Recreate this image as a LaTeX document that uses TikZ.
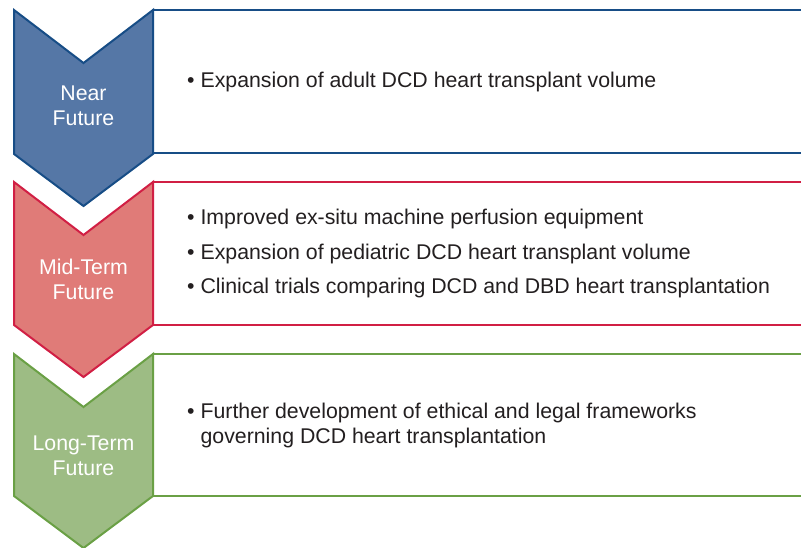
\documentclass[tikz,border=0pt]{standalone}
\usepackage{fontspec}
\setmainfont{Liberation Sans}
\definecolor{nearfill}{HTML}{5577A6}
\definecolor{nearline}{HTML}{174D86}
\definecolor{midfill}{HTML}{E07B78}
\definecolor{midline}{HTML}{D11F44}
\definecolor{longfill}{HTML}{9DBC84}
\definecolor{longline}{HTML}{6AA045}
\definecolor{bodytext}{HTML}{231F20}
\tikzset{
  panel/.style={line width=2pt, fill=white},
  chevronshape/.style={line width=2pt, line join=miter},
  stagelabel/.style={text=white, align=center, inner sep=0pt,
    font=\fontsize{21.3}{25}\selectfont},
  itemlist/.style={text=bodytext, align=left, anchor=west, inner sep=0pt,
    font=\fontsize{21.3}{25}\selectfont},
}
\begin{document}
\begin{tikzpicture}[x=1pt,y=-1pt]
\useasboundingbox (0,0) rectangle (801,548);
\clip (0,0) rectangle (801,548);

% stage 1: near future
\draw[panel, draw=nearline] (153,10) rectangle (810,153);
\draw[chevronshape, draw=nearline, fill=nearfill]
  (14,10) -- (83.5,63) -- (153,10) -- (153,154) -- (83.5,206) -- (14,154) -- cycle;
\node[stagelabel] (near) at (83.5,106) {Near\\Future};
\node[itemlist] (nearitems) at (187,81.5)
  {\textbullet\ Expansion of adult DCD heart transplant volume};

% stage 2: mid-term future
\draw[panel, draw=midline] (153,182) rectangle (810,325);
\draw[chevronshape, draw=midline, fill=midfill]
  (14,182) -- (83.5,235) -- (153,182) -- (153,325) -- (83.5,377) -- (14,325) -- cycle;
\node[stagelabel] (mid) at (83.5,279) {Mid-Term\\Future};
\node[itemlist, font=\fontsize{21.3}{34.5}\selectfont] (miditems) at (187,253.5)
  {\textbullet\ Improved ex-situ machine perfusion equipment\\
   \textbullet\ Expansion of pediatric DCD heart transplant volume\\
   \textbullet\ Clinical trials comparing DCD and DBD heart transplantation};

% stage 3: long-term future
\draw[panel, draw=longline] (153,354) rectangle (810,496);
\draw[chevronshape, draw=longline, fill=longfill]
  (14,354) -- (83.5,407) -- (153,354) -- (153,496) -- (83.5,548) -- (14,496) -- cycle;
\node[stagelabel] (long) at (83.5,456) {Long-Term\\Future};
\node[itemlist] (longitems) at (187,425)
  {\textbullet\ Further development of ethical and legal frameworks\\
   \phantom{\textbullet\ }governing DCD heart transplantation};
\end{tikzpicture}
\end{document}
